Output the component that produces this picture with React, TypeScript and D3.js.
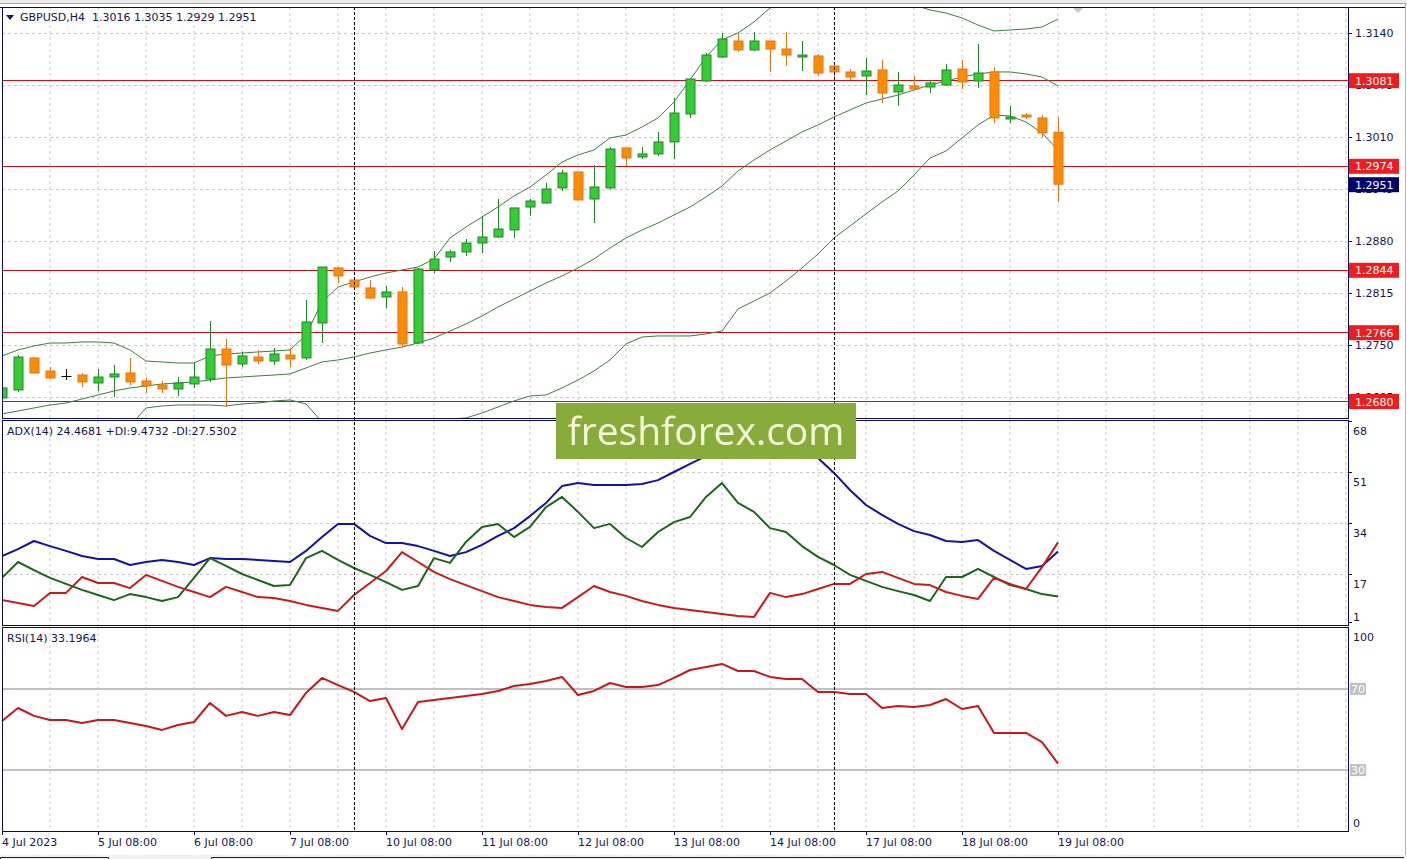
import * as d3 from "d3";

// GBPUSD H4, 4 Jul 2023 08:00 .. 19 Jul 2023 08:00 (one entry per bar)
const open = [
  1.26838, 1.26938, 1.27338, 1.27175, 1.27113, 1.27125, 1.27025, 1.271, 1.2715, 1.2705,
  1.27, 1.2695, 1.27013, 1.27075, 1.2745, 1.27263, 1.2735, 1.273, 1.27375, 1.27338,
  1.27775, 1.28463, 1.28313, 1.28213, 1.281, 1.28163, 1.27525, 1.28438, 1.286, 1.28663,
  1.28775, 1.2885, 1.28938, 1.29225, 1.29275, 1.29463, 1.29663, 1.29325, 1.29463, 1.29963,
  1.2985, 1.29888, 1.30038, 1.30388, 1.308, 1.311, 1.313, 1.31188, 1.313, 1.312,
  1.311, 1.31113, 1.30988, 1.30913, 1.30863, 1.30938, 1.30663, 1.30738, 1.30725, 1.3075,
  1.3095, 1.308, 1.30913, 1.30325, 1.30375, 1.30338, 1.3016,
];
const high = [
  1.27088, 1.27375, 1.2735, 1.27225, 1.272, 1.2715, 1.272, 1.2725, 1.27338, 1.271,
  1.2705, 1.271, 1.27275, 1.278, 1.27575, 1.27413, 1.27438, 1.27463, 1.27463, 1.28063,
  1.28475, 1.28475, 1.28325, 1.28313, 1.28238, 1.28225, 1.28463, 1.28675, 1.28688, 1.28825,
  1.29113, 1.29325, 1.29213, 1.29325, 1.29525, 1.29688, 1.29663, 1.2975, 1.29975, 1.29963,
  1.29975, 1.30163, 1.30588, 1.30825, 1.3115, 1.314, 1.314, 1.31413, 1.313, 1.31413,
  1.313, 1.31138, 1.30988, 1.3095, 1.31088, 1.31063, 1.30913, 1.30863, 1.30813, 1.31013,
  1.31063, 1.31263, 1.30975, 1.30488, 1.304, 1.30375, 1.3035,
];
const low = [
  1.26825, 1.26913, 1.27138, 1.27075, 1.27063, 1.26975, 1.26925, 1.2685, 1.27, 1.269,
  1.269, 1.26863, 1.26963, 1.27038, 1.26725, 1.27225, 1.27263, 1.2725, 1.27225, 1.27313,
  1.27525, 1.28275, 1.28188, 1.28075, 1.27963, 1.27475, 1.27513, 1.284, 1.28538, 1.28613,
  1.2865, 1.28838, 1.28838, 1.29113, 1.29263, 1.29425, 1.29313, 1.29025, 1.2945, 1.29738,
  1.29825, 1.29863, 1.29825, 1.30338, 1.30788, 1.31088, 1.31163, 1.31175, 1.30913, 1.30988,
  1.30925, 1.30863, 1.30813, 1.30813, 1.30625, 1.30525, 1.30488, 1.30688, 1.3065, 1.30738,
  1.307, 1.30713, 1.30275, 1.30275, 1.30325, 1.301, 1.2929,
];
const close = [
  1.26963, 1.2735, 1.2715, 1.27088, 1.27113, 1.27038, 1.271, 1.27138, 1.27038, 1.26988,
  1.2695, 1.27025, 1.271, 1.2745, 1.2725, 1.27363, 1.273, 1.27388, 1.27325, 1.27788,
  1.28475, 1.28363, 1.28225, 1.28088, 1.28163, 1.27513, 1.2845, 1.28575, 1.28663, 1.28775,
  1.2885, 1.2895, 1.29213, 1.293, 1.2945, 1.2965, 1.29313, 1.29475, 1.2995, 1.29838,
  1.29888, 1.30038, 1.304, 1.30825, 1.31125, 1.31325, 1.31188, 1.313, 1.312, 1.31125,
  1.31125, 1.309, 1.30913, 1.3085, 1.30925, 1.3065, 1.3075, 1.307, 1.30775, 1.30938,
  1.30788, 1.309, 1.30338, 1.3035, 1.3035, 1.3015, 1.2951,
];

// Bollinger bands
const bbUpper = [
  1.27363, 1.27438, 1.27488, 1.27525, 1.27525, 1.27538, 1.27538, 1.27525, 1.27438, 1.273,
  1.27288, 1.27275, 1.27275, 1.27363, 1.27388, 1.274, 1.27413, 1.27425, 1.27438, 1.27625,
  1.28038, 1.28225, 1.28288, 1.2835, 1.284, 1.28438, 1.28475, 1.28575, 1.28838, 1.28975,
  1.291, 1.29225, 1.29363, 1.29475, 1.29625, 1.29788, 1.29875, 1.29938, 1.30088, 1.30125,
  1.30225, 1.30338, 1.30538, 1.30813, 1.311, 1.31313, 1.314, 1.31538, 1.31713, 1.31838,
  1.31913, 1.31963, 1.31988, 1.31988, 1.31963, 1.31913, 1.31838, 1.3175, 1.31688, 1.3165,
  1.31588, 1.315, 1.31425, 1.31438, 1.3145, 1.31475, 1.31575,
];
const bbMiddle = [
  1.26638, 1.26675, 1.26713, 1.2675, 1.26775, 1.26825, 1.26875, 1.26925, 1.26963, 1.26988,
  1.27013, 1.27025, 1.27038, 1.27063, 1.27088, 1.271, 1.27113, 1.27125, 1.27138, 1.27213,
  1.27288, 1.27313, 1.2735, 1.274, 1.27438, 1.27475, 1.27525, 1.27588, 1.27675, 1.27763,
  1.27863, 1.27975, 1.28075, 1.28175, 1.28275, 1.28363, 1.28463, 1.28575, 1.28713, 1.28838,
  1.28938, 1.29025, 1.29125, 1.29225, 1.2935, 1.29488, 1.29675, 1.29813, 1.29938, 1.3005,
  1.30163, 1.3025, 1.3035, 1.30438, 1.30525, 1.30575, 1.30625, 1.30688, 1.3075, 1.308,
  1.3085, 1.30888, 1.30913, 1.30913, 1.30888, 1.3085, 1.30738,
];
const bbLower = [
  1.25913, 1.25913, 1.25938, 1.25975, 1.26025, 1.26113, 1.26213, 1.26325, 1.26488, 1.26713,
  1.26738, 1.2675, 1.2675, 1.2675, 1.26738, 1.26763, 1.26775, 1.268, 1.26813, 1.26763,
  1.26538, 1.264, 1.26413, 1.2645, 1.26475, 1.265, 1.26538, 1.26563, 1.26575, 1.26588,
  1.2665, 1.26725, 1.268, 1.26863, 1.26875, 1.26963, 1.27063, 1.27175, 1.27313, 1.27513,
  1.276, 1.27613, 1.27613, 1.27613, 1.27638, 1.27675, 1.2795, 1.2805, 1.2815, 1.283,
  1.28463, 1.28638, 1.28838, 1.28988, 1.29138, 1.29288, 1.29425, 1.29625, 1.29838, 1.29925,
  1.30088, 1.3025, 1.30375, 1.30363, 1.30288, 1.3015, 1.29938,
];

const adx = [
  23.0, 25.3, 28.0, 26.3, 24.7, 23.0, 22.0, 22.0, 20.0, 21.0,
  21.7, 21.0, 20.0, 22.3, 22.0, 22.0, 21.7, 21.3, 21.0, 24.7,
  29.3, 33.7, 33.7, 29.7, 27.3, 27.3, 26.3, 24.7, 23.0, 24.3,
  26.7, 29.7, 32.3, 36.3, 40.7, 46.3, 47.3, 46.7, 46.7, 46.7,
  47.0, 48.3, 51.0, 53.7, 56.3, 58.3, 59.7, 60.3, 60.3, 59.7,
  58.3, 55.7, 50.7, 45.0, 40.0, 36.7, 33.7, 31.3, 30.0, 28.0,
  27.7, 28.3, 24.7, 21.7, 18.7, 19.7, 24.47,
];
const plusDI = [
  15.7, 21.0, 18.3, 15.7, 13.7, 11.7, 10.0, 8.3, 10.3, 9.3,
  8.0, 9.3, 15.7, 22.3, 19.7, 17.0, 15.0, 13.0, 13.3, 22.3,
  24.7, 21.7, 19.0, 16.7, 14.3, 11.7, 13.0, 22.3, 20.7, 27.7,
  32.7, 33.7, 29.3, 32.7, 39.3, 42.7, 37.7, 32.3, 33.7, 29.0,
  26.0, 31.0, 34.3, 36.0, 42.7, 47.3, 40.7, 37.7, 32.3, 31.0,
  26.3, 22.7, 20.0, 16.7, 14.7, 12.7, 11.3, 10.0, 8.0, 16.0,
  16.0, 18.7, 16.0, 13.3, 12.0, 10.3, 9.47,
];
const minusDI = [
  8.3, 7.3, 6.3, 10.7, 10.7, 16.0, 14.0, 14.0, 12.3, 16.7,
  14.7, 12.7, 11.0, 9.3, 12.7, 11.0, 9.3, 9.0, 8.0, 6.7,
  5.7, 4.7, 10.0, 14.0, 18.0, 24.3, 21.0, 17.7, 15.3, 13.3,
  11.3, 9.3, 8.0, 6.7, 6.0, 5.7, 9.3, 13.0, 11.0, 9.7,
  8.0, 6.7, 5.7, 5.0, 4.3, 3.7, 3.0, 2.7, 10.7, 9.3,
  10.3, 12.0, 13.7, 13.7, 17.0, 17.7, 15.7, 13.7, 13.3, 11.0,
  9.7, 8.7, 15.7, 13.7, 12.0, 19.3, 27.53,
];
const rsi = [
  54.2, 60.6, 56.7, 54.7, 54.7, 53.2, 54.7, 54.7, 53.2, 51.7,
  49.8, 52.2, 53.7, 63.1, 56.7, 58.6, 56.7, 58.6, 57.1, 68.0,
  75.4, 71.9, 68.5, 64.0, 65.5, 50.2, 63.5, 64.5, 65.5, 66.5,
  67.5, 69.0, 71.4, 72.4, 73.9, 75.9, 67.0, 69.0, 72.9, 70.9,
  70.9, 71.9, 75.4, 79.3, 80.8, 82.3, 78.8, 78.8, 75.9, 74.9,
  74.9, 68.5, 68.5, 67.5, 67.5, 60.6, 61.6, 61.1, 62.1, 65.0,
  60.1, 61.6, 48.3, 48.3, 48.3, 43.8, 33.2,
];

const dateLabels = [
  "4 Jul 2023", "5 Jul 08:00", "6 Jul 08:00", "7 Jul 08:00", "10 Jul 08:00", "11 Jul 08:00",
  "12 Jul 08:00", "13 Jul 08:00", "14 Jul 08:00", "17 Jul 08:00", "18 Jul 08:00", "19 Jul 08:00",
];
const dateTickBars = [0, 6, 12, 18, 24, 30, 36, 42, 48, 54, 60, 66];
const weekStartBars = [22, 52];

const priceTicks = [1.314, 1.3075, 1.301, 1.2945, 1.288, 1.2815, 1.275, 1.2685];
const levels = [1.3081, 1.2974, 1.2844, 1.2766, 1.268];
const lastPrice = 1.2951;
const adxTicks = [68, 51, 34, 17, 1];
const rsiLevels = [70, 30];

const W = 1407;
const H = 859;
const L = 2;
const R = 1348;
const main = { top: 7, bottom: 418 };
const adxPane = { top: 420, bottom: 625 };
const rsiPane = { top: 627, bottom: 831 };

const FONT = "DejaVu Sans, Verdana, sans-serif";
const TXT = "#15154f";
const BORDER = "#0b0b5e";
const GRID = "#c8c8c8";

export default function App() {
  const n = open.length;
  const x = d3.scaleLinear().domain([0, n - 1]).range([2, 1058]);
  const yP = d3.scaleLinear().domain([1.314, 1.275]).range([33, 345]);
  const yA = d3.scaleLinear().domain([0, 68]).range([adxPane.bottom, adxPane.top + 1]);
  const yR = d3.scaleLinear().domain([0, 100]).range([rsiPane.bottom, rsiPane.top + 1]);

  const gridBars = d3.range(3, 85, 3);
  const idx = d3.range(n);

  const lineP = (arr: number[]) =>
    d3.line<number>().x((_, i) => x(i)).y((d) => yP(d))(arr)!;
  const lineA = (arr: number[]) =>
    d3.line<number>().x((_, i) => x(i)).y((d) => yA(d))(arr)!;
  const lineR = d3.line<number>().x((_, i) => x(i)).y((d) => yR(d))(rsi)!;

  return (
    <svg width={W} height={H} style={{ display: "block", background: "#fff" }}>
      <style>{`body{margin:0}`}</style>
      <defs>
        <clipPath id="mainClip">
          <rect x={L} y={main.top} width={R - L} height={main.bottom - main.top} />
        </clipPath>
        <clipPath id="adxClip">
          <rect x={L} y={adxPane.top} width={R - L} height={adxPane.bottom - adxPane.top} />
        </clipPath>
        <filter id="soft">
          <feGaussianBlur stdDeviation={0.6} />
        </filter>
      </defs>

      {/* window frame */}
      <rect x={0} y={0} width={W} height={4} fill="#ececec" />
      <line x1={0} x2={W} y1={3.5} y2={3.5} stroke="#a8a8a8" />
      <line x1={1405.5} x2={1405.5} y1={3} y2={H} stroke="#b4b4b4" />
      <rect x={0} y={855} width={W} height={4} fill="#f0f0f0" />
      <path d="M0.5,859 V857.5 H108.5 V859" fill="none" stroke="#222" />
      <path d="M211.5,859 V857.5 H1404" fill="none" stroke="#222" />

      {/* vertical grid */}
      {gridBars.map((b) => (
        <g key={"vg" + b}>
          <line x1={x(b)} x2={x(b)} y1={main.top} y2={main.bottom} stroke={GRID} strokeDasharray="3,3" />
          <line x1={x(b)} x2={x(b)} y1={adxPane.top} y2={adxPane.bottom} stroke={GRID} strokeDasharray="3,3" />
          <line x1={x(b)} x2={x(b)} y1={rsiPane.top} y2={rsiPane.bottom} stroke={GRID} strokeDasharray="3,3" />
        </g>
      ))}
      {/* horizontal grid */}
      {priceTicks.map((p) => (
        <line key={"hg" + p} x1={L} x2={R} y1={Math.round(yP(p)) + 0.5} y2={Math.round(yP(p)) + 0.5} stroke={GRID} strokeDasharray="3,3" />
      ))}
      {adxTicks.slice(1, 4).map((v) => (
        <line key={"ag" + v} x1={L} x2={R} y1={Math.round(yA(v)) + 0.5} y2={Math.round(yA(v)) + 0.5} stroke={GRID} strokeDasharray="3,3" />
      ))}

      {/* main pane */}
      <g clipPath="url(#mainClip)">
        {levels.map((p) => (
          <line key={"lv" + p} x1={L} x2={R} y1={Math.round(yP(p)) + 0.5} y2={Math.round(yP(p)) + 0.5} stroke="#d01010" />
        ))}
        {[bbUpper, bbMiddle, bbLower].map((arr, k) => (
          <path key={"bb" + k} d={lineP(arr)} fill="none" stroke="#3d7f3d" strokeWidth={1} />
        ))}
        {idx.map((i) => {
          const o = open[i];
          const c = close[i];
          const cx = Math.round(x(i)) + 0.5;
          const doji = o === c;
          const bull = c > o;
          const stroke = doji ? "#000" : bull ? "#23852a" : "#e07418";
          const fill = bull ? "#33cc33" : "#ff8c00";
          const top = yP(Math.max(o, c));
          const bot = yP(Math.min(o, c));
          return (
            <g key={"c" + i}>
              <line x1={cx} x2={cx} y1={yP(high[i])} y2={yP(low[i])} stroke={stroke} />
              {doji ? (
                <line x1={cx - 5} x2={cx + 5} y1={Math.round(top) + 0.5} y2={Math.round(top) + 0.5} stroke={stroke} />
              ) : (
                <rect x={cx - 4.5} y={top} width={9} height={Math.max(bot - top, 1)} fill={fill} stroke={stroke} />
              )}
            </g>
          );
        })}
      </g>
      <path d="M1072,7 L1084,7 L1078,13 Z" fill="#c8c8d0" />

      {/* ADX pane */}
      <g clipPath="url(#adxClip)" fill="none" strokeWidth={2} strokeLinejoin="round">
        <path d={lineA(adx)} stroke="#1212a4" />
        <path d={lineA(plusDI)} stroke="#1b661b" />
        <path d={lineA(minusDI)} stroke="#cc1a1a" />
      </g>

      {/* RSI pane */}
      {rsiLevels.map((v) => (
        <line key={"rl" + v} x1={L} x2={R} y1={yR(v)} y2={yR(v)} stroke="#c0c0c0" strokeWidth={2} />
      ))}
      <path d={lineR} fill="none" stroke="#c8161d" strokeWidth={2} strokeLinejoin="round" />

      {/* week separators */}
      {weekStartBars.map((b) => (
        <line key={"ws" + b} x1={Math.round(x(b)) + 0.5} x2={Math.round(x(b)) + 0.5} y1={main.top} y2={rsiPane.bottom} stroke="#000" strokeDasharray="3,2" />
      ))}

      {/* pane borders */}
      <line x1={0} x2={1405} y1={main.top + 0.5} y2={main.top + 0.5} stroke={BORDER} />
      {[main, adxPane, rsiPane].map((p, k) => (
        <rect key={"pb" + k} x={L + 0.5} y={p.top + 0.5} width={R - L} height={p.bottom - p.top} fill="none" stroke={BORDER} />
      ))}

      {/* price axis */}
      <g fontFamily={FONT} fontSize={11} fill={TXT}>
        {priceTicks.map((p) => (
          <g key={"pt" + p}>
            <line x1={R} x2={R + 4} y1={Math.round(yP(p)) + 0.5} y2={Math.round(yP(p)) + 0.5} stroke={BORDER} />
            <text x={1355} y={yP(p) + 4}>{p.toFixed(4)}</text>
          </g>
        ))}
      </g>
      {levels.map((p) => (
        <g key={"lb" + p}>
          <rect x={1349} y={yP(p) - 7} width={50} height={15} fill="#ee1c1c" />
          <text x={1355} y={yP(p) + 4.5} fontFamily={FONT} fontSize={11} fill="#fff">{p.toFixed(4)}</text>
        </g>
      ))}
      <rect x={1349} y={yP(lastPrice) - 7} width={50} height={15} fill="#00006e" />
      <text x={1355} y={yP(lastPrice) + 4.5} fontFamily={FONT} fontSize={11} fill="#fff">{lastPrice.toFixed(4)}</text>

      {/* ADX axis */}
      <g fontFamily={FONT} fontSize={11} fill={TXT}>
        {adxTicks.map((v) => {
          const ty = Math.min(yA(v) + 10, adxPane.bottom - 8);
          return (
            <g key={"at" + v}>
              <line x1={R} x2={R + 4} y1={Math.round(yA(v)) + 0.5} y2={Math.round(yA(v)) + 0.5} stroke={BORDER} />
              <text x={1353} y={ty + 4}>{v}</text>
            </g>
          );
        })}
        <text x={1353} y={yR(100) + 13}>100</text>
        <text x={1353} y={yR(0) - 4}>0</text>
      </g>
      {rsiLevels.map((v) => (
        <g key={"rt" + v}>
          <rect x={1350} y={yR(v) - 6} width={16} height={12} fill="#c0c0c0" />
          <text x={1351} y={yR(v) + 4} fontFamily={FONT} fontSize={11} fill="#fff">{v}</text>
        </g>
      ))}

      {/* time axis */}
      <g fontFamily={FONT} fontSize={11} fill={TXT}>
        {dateTickBars.map((b, k) => (
          <g key={"dt" + b}>
            <line x1={Math.round(x(b)) + 0.5} x2={Math.round(x(b)) + 0.5} y1={rsiPane.bottom} y2={rsiPane.bottom + 4} stroke={BORDER} />
            <text x={x(b)} y={846}>{dateLabels[k]}</text>
          </g>
        ))}
      </g>

      {/* pane titles */}
      <path d="M6,15 L14,15 L10,20 Z" fill="#15156a" />
      <text x={20} y={21} fontFamily={FONT} fontSize={11} fill={TXT} style={{ whiteSpace: "pre" }}>
        {"GBPUSD,H4  1.3016 1.3035 1.2929 1.2951"}
      </text>
      <text x={7} y={435} fontFamily={FONT} fontSize={11} fill={TXT}>ADX(14) 24.4681 +DI:9.4732 -DI:27.5302</text>
      <text x={7} y={642} fontFamily={FONT} fontSize={11} fill={TXT}>RSI(14) 33.1964</text>

      {/* watermark */}
      <rect x={556} y={403} width={300} height={56} fill="#88ac3a" />
      <text x={706} y={445} textAnchor="middle" fontFamily="Open Sans, Noto Sans, sans-serif" fontSize={39} fill="#f4f8dc" filter="url(#soft)">
        freshforex.com
      </text>
    </svg>
  );
}
